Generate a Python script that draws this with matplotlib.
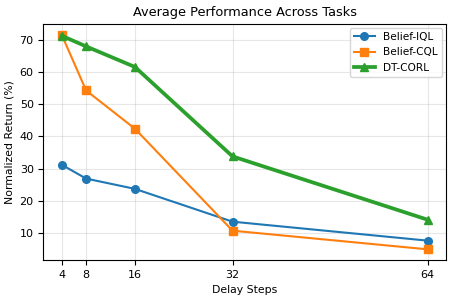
import matplotlib
matplotlib.use("Agg")
import matplotlib.pyplot as plt

delays = [4, 8, 16, 32, 64]
belief_iql = [31.2, 26.9, 23.7, 13.5, 7.6]
belief_cql = [71.6, 54.3, 42.4, 10.7, 4.9]
dt_corl = [71.3, 68.0, 61.6, 33.8, 14.1]

fig = plt.figure(figsize=(4.57, 3.01), dpi=100)
ax = fig.add_axes([0.095, 0.136, 0.881, 0.784])
ax.plot(delays, belief_iql, marker='o', color='#1f77b4', lw=1.5, ms=5.5, label='Belief-IQL')
ax.plot(delays, belief_cql, marker='s', color='#ff7f0e', lw=1.5, ms=5.5, label='Belief-CQL')
ax.plot(delays, dt_corl, marker='^', color='#2ca02c', lw=2.7, ms=6, label='DT-CORL')
ax.set_xticks(delays)
ax.set_xticklabels([str(d) for d in delays])
ax.tick_params(labelsize=8)
ax.set_xlabel('Delay Steps', fontsize=7.8)
ax.set_ylabel('Normalized Return (%)', fontsize=7.8)
ax.set_title('Average Performance Across Tasks', fontsize=9.3)
ax.grid(True, alpha=0.3)
ax.legend(fontsize=7.6, loc='upper right', borderaxespad=0.35)
fig.savefig('out.png', dpi=100)
